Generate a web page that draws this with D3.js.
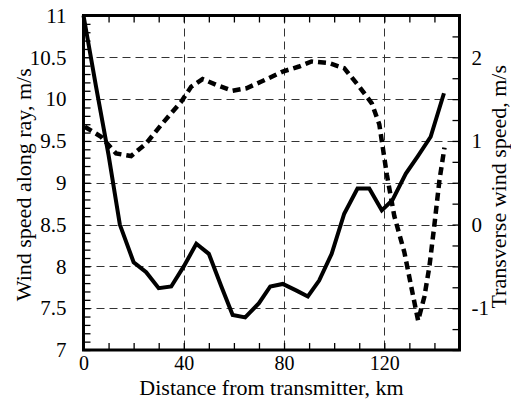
<!DOCTYPE html>
<html>
<head>
<meta charset="utf-8">
<script src="https://cdn.jsdelivr.net/npm/d3@7"></script>
<style>
  html, body { margin: 0; padding: 0; background: #fff; }
  svg { display: block; }
  text { font-family: "Liberation Serif", "Times New Roman", serif; fill: #000; }
</style>
</head>
<body>
<svg id="chart" width="511" height="399"></svg>
<script>
// ---- Data ----
const alongKm    = [0, 5, 10, 14.5, 20, 25, 30, 35, 40, 45, 50, 55, 59.5, 64.5, 70, 74.5, 79.5, 85, 89.5, 94, 99, 104, 109.3, 114, 119, 123.2, 128.6, 133.2, 138.5, 143.8];
const alongSpeed = [11.0, 10.15, 9.33, 8.5, 8.05, 7.93, 7.74, 7.76, 8.0, 8.27, 8.15, 7.76, 7.42, 7.39, 7.56, 7.76, 7.79, 7.71, 7.64, 7.83, 8.15, 8.63, 8.93, 8.93, 8.67, 8.79, 9.11, 9.31, 9.55, 10.07];

const transKm    = [0.5, 7, 13, 19, 25, 31.5, 39, 43, 47.5, 53, 59.5, 65, 71, 79.5, 86, 91, 98, 104, 110, 115, 118, 121, 124, 128, 131, 133.5, 136, 138, 140, 142, 144];
const transSpeed = [1.17, 1.05, 0.85, 0.82, 0.97, 1.21, 1.47, 1.65, 1.74, 1.67, 1.6, 1.63, 1.71, 1.83, 1.89, 1.95, 1.93, 1.87, 1.65, 1.45, 1.2, 0.6, 0.1, -0.33, -0.78, -1.15, -0.86, -0.5, 0.0, 0.53, 0.92];

const xTickLabels     = [0, 40, 80, 120];
const leftTickLabels  = [7, 7.5, 8, 8.5, 9, 9.5, 10, 10.5, 11];
const rightTickLabels = [-1, 0, 1, 2];
const xGrid = [40, 80, 120];
const yGrid = [7.5, 8, 8.5, 9, 9.5, 10, 10.5];

const xTitle = "Distance from transmitter, km";
const leftTitle = "Wind speed along ray, m/s";
const rightTitle = "Transverse wind speed, m/s";

// ---- Layout ----
const L = 83.5, R = 459.5, T = 15.5, B = 350;
const svg = d3.select("#chart");

const x  = d3.scaleLinear().domain([0, 150]).range([L, R]);
const yL = d3.scaleLinear().domain([7, 11]).range([B, T]);
const yR = d3.scaleLinear().domain([-1.5, 2.5]).range([B, T]);

// Gridlines
const grid = svg.append("g").attr("stroke", "#333").attr("stroke-width", 1).attr("stroke-dasharray", "8 5");
grid.selectAll("line.v").data(xGrid).join("line").attr("class", "v")
  .attr("x1", d => Math.round(x(d)) + 0.5).attr("x2", d => Math.round(x(d)) + 0.5)
  .attr("y1", T).attr("y2", B);
grid.selectAll("line.h").data(yGrid).join("line").attr("class", "h")
  .attr("y1", d => Math.round(yL(d)) + 0.5).attr("y2", d => Math.round(yL(d)) + 0.5)
  .attr("x1", L).attr("x2", R);

// Axes (ticks inward)
const xTicks = d3.range(0, 151, 10);
const lTicks = d3.range(70, 111, 1).map(d => d / 10);
const rTicks = d3.range(-6, 11, 1).map(d => d / 4);

function styleAxis(size) {
  return g => {
    g.attr("font-family", null).attr("font-size", null);
    g.select(".domain").remove();
    g.selectAll(".tick line").attr("stroke", "#000").attr("stroke-width", 1.3);
    g.selectAll(".tick text").style("font-family", "'Liberation Serif', serif").style("font-size", size + "px").attr("fill", "#000");
  };
}

svg.append("g").attr("transform", `translate(0,${B})`)
  .call(d3.axisBottom(x).tickValues(xTicks).tickSize(-7).tickPadding(6)
    .tickFormat(d => xTickLabels.includes(d) ? d3.format("d")(d) : ""))
  .call(styleAxis(20));

svg.append("g").attr("transform", `translate(0,${T})`)
  .call(d3.axisTop(x).tickValues(xTicks).tickSize(-7).tickFormat(""))
  .call(styleAxis(20));

svg.append("g").attr("transform", `translate(${L},0)`)
  .call(d3.axisLeft(yL).tickValues(lTicks).tickSize(-7).tickPadding(17)
    .tickFormat(d => leftTickLabels.some(v => Math.abs(v - d) < 1e-9) ? String(+d.toFixed(1)) : ""))
  .call(styleAxis(21));

svg.append("g").attr("transform", `translate(${R},0)`)
  .call(d3.axisRight(yR).tickValues(rTicks).tickSize(-7).tickPadding(12)
    .tickFormat(d => rightTickLabels.some(v => Math.abs(v - d) < 1e-9) ? String(d) : ""))
  .call(styleAxis(21));

// Lines
const lineAlong = d3.line().x((d, i) => x(alongKm[i])).y(d => yL(d));
const lineTrans = d3.line().x((d, i) => x(transKm[i])).y(d => yR(d));

svg.append("path").datum(transSpeed)
  .attr("d", lineTrans).attr("fill", "none").attr("stroke", "#000")
  .attr("stroke-width", 4.5).attr("stroke-dasharray", "8 5").attr("stroke-linejoin", "miter");

svg.append("path").datum(alongSpeed)
  .attr("d", lineAlong).attr("fill", "none").attr("stroke", "#000")
  .attr("stroke-width", 4).attr("stroke-linejoin", "miter");

// Frame
svg.append("rect").attr("x", L).attr("y", T).attr("width", R - L).attr("height", B - T)
  .attr("fill", "none").attr("stroke", "#000").attr("stroke-width", 3);

// Titles
svg.append("text").attr("x", (L + R) / 2).attr("y", 395).attr("text-anchor", "middle")
  .style("font-size", "22px").text(xTitle);
svg.append("text").attr("transform", `translate(31,${(T + B) / 2 + 2}) rotate(-90)`).attr("text-anchor", "middle")
  .style("font-size", "22px").text(leftTitle);
svg.append("text").attr("transform", `translate(506,${(T + B) / 2 + 4}) rotate(-90)`).attr("text-anchor", "middle")
  .style("font-size", "22px").text(rightTitle);
</script>
</body>
</html>
